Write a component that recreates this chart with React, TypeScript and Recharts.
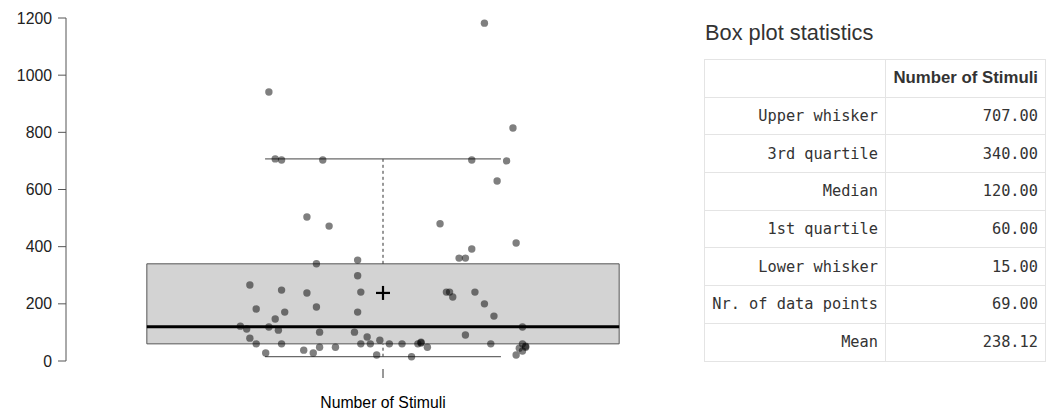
import React from "react";
import {
  ComposedChart, Scatter, XAxis, YAxis, ReferenceArea, ReferenceLine,
} from "recharts";

// jittered horizontal offset (box centre = 0, box edges = ±0.745)
const jitterX = [
  -0.36, -0.34, -0.32, -0.19, -0.24, -0.17, -0.21, -0.42, -0.32, -0.24,
  -0.40, -0.31, -0.21, -0.34, -0.45, -0.43, -0.36, -0.33, -0.20, -0.42,
  -0.40, -0.32, -0.37, -0.25, -0.22, -0.20, -0.15,
  0.32, 0.41, 0.28, 0.39, 0.36, 0.18, 0.42, 0.28, 0.24, 0.26,
  -0.08, -0.08, -0.07, -0.08, 0.20, 0.21, 0.22, 0.29, 0.32, 0.35,
  0.44, -0.09, 0.26, -0.05, -0.01, -0.07, -0.04, 0.02, 0.06, 0.12,
  0.12, 0.14, 0.11, 0.34, 0.44, 0.45, 0.43, 0.45, 0.44, 0.42,
  -0.02, 0.09, 0.32,
];

// number of stimuli per observation
const stimuli = [
  941, 707, 703, 703, 504, 472, 340, 266, 248, 238,
  182, 171, 189, 147, 122, 112, 119, 108, 101, 80,
  60, 60, 28, 38, 28, 48, 48,
  1182, 815, 703, 700, 630, 480, 413, 392, 360, 360,
  353, 298, 241, 171, 241, 241, 224, 241, 200, 157,
  119, 101, 91, 84, 73, 60, 60, 60, 60, 63,
  66, 48, 60, 60, 60, 48, 45, 52, 35,
  21, 21, 15,
];

const yTicks = [0, 200, 400, 600, 800, 1000, 1200];
const category = "Number of Stimuli";

const statLabels = [
  "Upper whisker", "3rd quartile", "Median", "1st quartile",
  "Lower whisker", "Nr. of data points", "Mean",
];
const statValues = [707, 340, 120, 60, 15, 69, 238.12];

const [upperWhisker, q3, median, q1, lowerWhisker, , mean] = statValues;

const points = stimuli.map((v, i) => ({ x: jitterX[i], y: v }));

const SANS = "'Liberation Sans', Arial, sans-serif";

const CategoryTick = (props: any) => {
  const { x, y } = props;
  return (
    <g>
      <line x1={x} x2={x} y1={y + 8} y2={y + 17} stroke="#333" strokeWidth={1} />
      <text x={x} y={y + 47} textAnchor="middle" fontSize={15.8} fill="#000" fontFamily={SANS}>
        {category}
      </text>
    </g>
  );
};

const Plus = (props: any) => {
  const { cx, cy } = props;
  return (
    <g stroke="#000" strokeWidth={2.2}>
      <line x1={cx - 7} x2={cx + 7} y1={cy} y2={cy} />
      <line x1={cx} x2={cx} y1={cy - 7} y2={cy + 7} />
    </g>
  );
};

const Dot = (props: any) => (
  <circle cx={props.cx} cy={props.cy} r={3.7} fill="#000" fillOpacity={0.5} />
);

const cell: React.CSSProperties = {
  border: "1px solid #e4e4e4",
  padding: "0 7px",
  height: 36.7,
  textAlign: "right",
  fontFamily: "'DejaVu Sans Mono', monospace",
  fontSize: 15.3,
  color: "#333",
  whiteSpace: "nowrap",
};

export default function App() {
  return (
    <div style={{ position: "relative", width: 1047, height: 404, fontFamily: SANS }}>
      <ComposedChart width={692} height={404} data={points}
        margin={{ top: 10, right: 0, left: 0, bottom: 0 }}>
        <XAxis type="number" dataKey="x" domain={[-1, 1]} ticks={[0]}
          axisLine={false} tickLine={false} tickSize={0} tickMargin={0}
          height={51} tick={<CategoryTick />} />
        <YAxis type="number" dataKey="y" domain={[0, 1200]} ticks={yTicks}
          width={58} tickSize={8} tickMargin={6}
          axisLine={{ stroke: "#555" }} tickLine={{ stroke: "#555" }}
          tick={{ fontSize: 15.8, fill: "#222", fontFamily: SANS }} interval={0} />
        <ReferenceArea x1={-0.745} x2={0.745} y1={q1} y2={q3}
          fill="#d3d3d3" fillOpacity={1} stroke="#555" strokeWidth={1} />
        <ReferenceLine segment={[{ x: 0, y: q3 }, { x: 0, y: upperWhisker }]}
          stroke="#333" strokeDasharray="3 3" />
        <ReferenceLine segment={[{ x: 0, y: lowerWhisker }, { x: 0, y: q1 }]}
          stroke="#333" strokeDasharray="3 3" />
        <ReferenceLine segment={[{ x: -0.372, y: upperWhisker }, { x: 0.372, y: upperWhisker }]}
          stroke="#444" />
        <ReferenceLine segment={[{ x: -0.372, y: lowerWhisker }, { x: 0.372, y: lowerWhisker }]}
          stroke="#444" />
        <ReferenceLine segment={[{ x: -0.745, y: median }, { x: 0.745, y: median }]}
          stroke="#000" strokeWidth={3} />
        <Scatter data={points} shape={<Dot />} isAnimationActive={false} />
        <Scatter data={[{ x: 0, y: mean }]} shape={<Plus />} isAnimationActive={false} />
      </ComposedChart>

      <div style={{ position: "absolute", left: 697, top: 12, fontSize: 21.8, color: "#333" }}>
        Box plot statistics
      </div>
      <table style={{
        position: "absolute", left: 696, top: 51, width: 342,
        borderCollapse: "collapse", background: "#fff",
      }}>
        <thead>
          <tr>
            <th style={{ ...cell, width: 166 }}></th>
            <th style={{ ...cell, fontFamily: SANS, fontWeight: "bold", fontSize: 16.8 }}>
              {category}
            </th>
          </tr>
        </thead>
        <tbody>
          {statLabels.map((label, i) => (
            <tr key={label}>
              <td style={cell}>{label}</td>
              <td style={cell}>{statValues[i].toFixed(2)}</td>
            </tr>
          ))}
        </tbody>
      </table>
    </div>
  );
}
